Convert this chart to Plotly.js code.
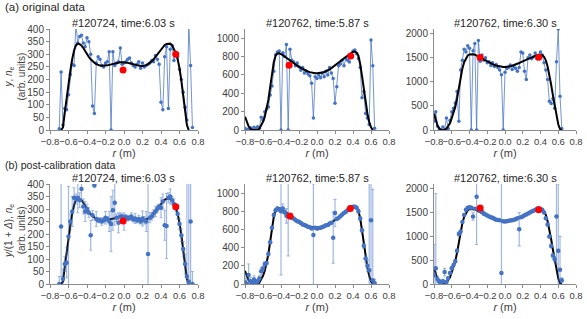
<!DOCTYPE html>
<html><head><meta charset="utf-8">
<script src="https://cdn.plot.ly/plotly-3.0.1.min.js"></script>
<style>body{margin:0;padding:0;background:#fff}#chart{width:587px;height:319px}</style>
</head><body><div id="chart"></div>
<script>
// ---------- shot #120724, time 6.03 s ----------
const rA = [-0.70,-0.68,-0.66,-0.64,-0.62,-0.60,-0.58,-0.56,-0.54,-0.52,
 -0.50,-0.48,-0.46,-0.44,-0.42,-0.40,-0.38,-0.36,-0.34,-0.32,
 -0.30,-0.28,-0.26,-0.24,-0.22,-0.20,-0.18,-0.16,-0.14,-0.12,
 -0.10,-0.08,-0.06,-0.04,-0.02,0.00,0.02,0.04,0.06,0.08,
 0.10,0.12,0.14,0.16,0.18,0.20,0.22,0.24,0.26,0.28,
 0.30,0.32,0.34,0.36,0.38,0.40,0.42,0.44,0.46,0.48,
 0.50,0.52,0.54,0.56,0.58,0.60,0.62,0.64,0.66,0.68,
 0.70,0.72,0.74];
const yA_orig = [5,230,20,85,80,140,220,260,255,420,
 345,370,375,345,330,365,350,300,95,65,
 265,290,280,255,250,265,270,310,0,310,
 255,265,270,325,260,265,270,280,285,265,
 255,250,260,270,245,265,250,255,260,265,
 275,270,295,280,260,110,80,290,330,85,
 320,335,275,300,290,240,200,150,90,40,
 420,255,10];
const yA_cal = [0,230,20,80,85,190,250,290,345,340,
 345,335,380,310,290,300,285,195,275,395,
 260,255,255,250,255,265,260,250,240,295,
 325,265,245,270,270,250,268,262,265,270,
 258,262,255,260,250,262,255,250,120,265,
 270,282,290,300,310,305,330,235,232,345,
 350,335,320,305,280,240,195,140,80,30,
 10,250,0];
const eA_cal = [30,200,40,30,60,200,30,60,40,20,
 60,30,50,30,40,20,20,60,20,10,
 30,10,10,15,10,25,10,40,110,80,
 90,15,40,15,10,35,10,10,10,15,
 10,20,10,15,10,30,15,40,300,20,
 15,15,20,15,10,40,30,60,130,20,
 30,15,20,15,20,20,25,30,40,400,
 500,400,50];
const fitRA = [-0.68,-0.66,-0.64,-0.62,-0.60,-0.58,-0.56,-0.54,-0.52,-0.50,
 -0.48,-0.46,-0.44,-0.42,-0.40,-0.38,-0.36,-0.34,-0.32,-0.30,
 -0.28,-0.26,-0.24,-0.22,-0.20,-0.18,-0.16,-0.14,-0.12,-0.10,
 -0.08,-0.06,-0.04,-0.02,0.00,0.02,0.04,0.06,0.08,0.10,
 0.12,0.14,0.16,0.18,0.20,0.22,0.24,0.26,0.28,0.30,
 0.32,0.34,0.36,0.38,0.40,0.42,0.44,0.46,0.48,0.50,
 0.52,0.54,0.56,0.58,0.60,0.62,0.64,0.66,0.68,0.70];
const fitA = [0,10,70,130,185,235,280,315,335,342,
 340,335,325,312,300,289,280,272,266,261,
 257,255,254,254,255,256,258,260,262,264,
 266,267,268,268,268,267,266,264,262,260,
 258,256,254,253,253,254,257,261,266,272,
 280,290,300,311,321,330,337,341,343,342,
 335,322,305,280,245,195,135,75,20,0];
const redRA = [-0.01,0.56];
const redA_orig = [238,300];
const redA_cal = [252,309];

// ---------- shot #120762 (5.87 s and 6.30 s) ----------
const rB = [-0.80,-0.78,-0.76,-0.74,-0.72,-0.70,-0.68,-0.66,-0.64,-0.62,
 -0.60,-0.58,-0.56,-0.54,-0.52,-0.50,-0.48,-0.46,-0.44,-0.42,
 -0.40,-0.38,-0.36,-0.34,-0.32,-0.30,-0.28,-0.26,-0.24,-0.22,
 -0.20,-0.18,-0.16,-0.14,-0.12,-0.10,-0.08,-0.06,-0.04,-0.02,
 0.00,0.02,0.04,0.06,0.08,0.10,0.12,0.14,0.16,0.18,
 0.20,0.22,0.24,0.26,0.28,0.30,0.32,0.34,0.36,0.38,
 0.40,0.42,0.44,0.46,0.48,0.50,0.52,0.54,0.56,0.58,
 0.60,0.62,0.64];
// time 5.87 s
const yB_orig = [20,0,10,25,5,30,15,35,20,140,
 110,200,230,250,380,480,640,820,850,860,
 0,840,800,930,0,880,760,740,700,730,
 690,650,680,620,640,610,590,510,130,580,
 560,600,570,620,580,640,600,680,620,560,
 290,470,700,720,760,700,780,760,740,820,
 860,870,830,780,680,350,420,180,130,60,
 980,700,20];
const yB_cal = [20,0,100,30,20,50,10,30,60,140,
 170,220,230,330,460,620,760,810,830,820,
 800,830,790,750,760,740,730,720,705,690,
 685,670,655,650,640,630,625,610,540,620,
 610,615,620,628,635,645,650,665,675,510,
 780,715,730,745,765,780,795,810,825,840,
 850,850,840,800,720,590,420,280,200,150,
 700,40,10];
const eB_cal = [100,60,120,40,20,40,30,20,30,40,
 30,25,20,20,15,15,20,15,20,15,
 700,50,20,80,450,25,15,10,10,10,
 10,10,10,15,10,10,10,10,560,10,
 15,10,10,10,10,10,15,10,10,280,
 150,10,10,10,10,10,15,10,10,10,
 10,15,15,20,20,20,25,40,60,1000,
 900,1000,40];
const fitB = [145,90,40,15,0,0,0,0,15,50,
 90,145,230,330,470,620,740,810,832,836,
 828,815,800,785,770,756,742,728,714,700,
 688,676,664,654,645,637,630,624,620,618,
 617,618,621,625,632,640,650,661,674,688,
 703,718,734,750,766,782,797,812,826,840,
 850,855,845,810,720,590,440,300,180,90,
 30,0,null];
const redRB = [-0.31,0.375];
const redB_orig = [705,807];
const redRB_cal = [-0.30,0.37];
const redB_cal = [748,830];
// time 6.30 s
const yC_orig = [180,380,80,20,0,60,10,250,30,200,
 380,450,560,800,180,1250,1450,1680,1620,1750,
 1700,0,1650,1800,0,1860,1430,1560,1450,1500,
 1400,1420,1340,1400,1320,1360,1300,1250,1150,0,
 1200,1280,1300,1350,1260,1320,1280,1220,1300,1620,
 1600,1220,1050,1500,1560,1480,1520,1600,1480,1550,
 1620,1560,1400,1250,1050,600,550,650,450,1420,
 2100,700,30];
const yC_cal = [180,330,100,50,20,60,250,40,120,230,
 330,400,480,700,1050,1100,1300,1450,1560,1600,
 1610,1600,1420,1580,1830,1570,1540,1520,1480,1460,
 1440,1420,1400,1390,1370,1350,1345,1340,230,1320,
 1310,1320,1330,1335,1340,1350,1360,1380,1150,1400,
 1420,1445,1460,1480,1500,1520,1540,1555,1580,1590,
 1570,1560,1500,1380,1250,1000,800,600,520,1420,
 700,300,80];
const eC_cal = [650,1570,60,40,30,40,80,20,30,30,
 40,30,20,30,40,20,20,20,20,20,
 20,30,80,20,1000,30,20,20,40,15,
 15,15,15,15,15,15,15,15,2000,15,
 15,15,15,15,15,15,15,20,350,15,
 15,15,15,15,15,15,15,15,15,15,
 20,20,20,25,30,40,40,50,60,1000,
 1400,700,50];
const fitC = [345,200,90,30,5,0,0,30,80,140,
 250,360,480,660,880,1100,1280,1410,1500,1550,
 1570,1580,1575,1565,1545,1525,1505,1485,1460,1440,
 1420,1400,1380,1365,1350,1340,1330,1322,1316,1312,
 1310,1312,1318,1326,1336,1346,1360,1375,1392,1410,
 1428,1446,1465,1483,1500,1515,1530,1545,1557,1565,
 1567,1555,1520,1450,1320,1150,940,720,500,280,
 120,20,0];
const redRC = [-0.28,0.38];
const redC_orig = [1505,1515];
const redC_cal = [1595,1560];

const titles = ['#120724, time:6.03 s','#120762, time:5.87 s','#120762, time:6.30 s'];
const yTitles = ['<i>y</i>, <i>n</i><sub>e</sub><br>(arb. units)',
                 '<i>y</i>/(1 + <i>Δ</i>), <i>n</i><sub>e</sub><br>(arb. units)'];
const yMax = [400,1100,2100];
const yStep = [50,200,500];

// ---------- styling ----------
const BLUE = '#4472C4';
const FONT = 'Liberation Sans, Arial, sans-serif';

function origData(x, y, ax){
  return {x:x, y:y, xaxis:'x'+ax, yaxis:'y'+ax, type:'scatter', mode:'lines+markers',
    line:{color:'rgba(68,114,196,0.75)', width:1},
    marker:{color:BLUE, size:3.5}, hoverinfo:'skip'};
}
function calData(x, y, e, ax){
  return {x:x, y:y, xaxis:'x'+ax, yaxis:'y'+ax, type:'scatter', mode:'markers',
    error_y:{type:'data', array:e, visible:true, color:'rgba(68,114,196,0.5)', thickness:1.2, width:1.5},
    marker:{color:BLUE, size:4.5}, hoverinfo:'skip'};
}
function fitLine(x, y, ax){
  return {x:x, y:y, xaxis:'x'+ax, yaxis:'y'+ax, type:'scatter', mode:'lines',
    line:{color:'#000', width:2}, connectgaps:false, hoverinfo:'skip'};
}
function redPts(x, y, ax){
  return {x:x, y:y, xaxis:'x'+ax, yaxis:'y'+ax, type:'scatter', mode:'markers',
    marker:{color:'#ff0000', size:7}, hoverinfo:'skip'};
}

const data = [
  origData(rA, yA_orig, ''), fitLine(fitRA, fitA, ''), redPts(redRA, redA_orig, ''),
  origData(rB, yB_orig, '2'), fitLine(rB, fitB, '2'), redPts(redRB, redB_orig, '2'),
  origData(rB, yC_orig, '3'), fitLine(rB, fitC, '3'), redPts(redRC, redC_orig, '3'),
  fitLine(fitRA, fitA, '4'), calData(rA, yA_cal, eA_cal, '4'), redPts(redRA, redA_cal, '4'),
  fitLine(rB, fitB, '5'), calData(rB, yB_cal, eB_cal, '5'), redPts(redRB_cal, redB_cal, '5'),
  fitLine(rB, fitC, '6'), calData(rB, yC_cal, eC_cal, '6'), redPts(redRC, redC_cal, '6')
];

const W = 587, H = 319;
const colPx = [[50,198],[245,389],[434,576]];
const rowPx = [[29,130],[184,284]];

function xAxis(col, row){
  const n = row*3+col+1;
  return {domain:[colPx[col][0]/W, colPx[col][1]/W], anchor:'y'+(n===1?'':n),
    range:[-0.8,0.8], tick0:-0.8, dtick:0.2, tickformat:'.1f', tickangle:0,
    showline:true, linecolor:'#8c8c8c', linewidth:1, ticks:'outside', ticklen:3, tickcolor:'#8c8c8c',
    showgrid:false, zeroline:false, tickfont:{family:FONT, size:9.5, color:'#404040'},
    title:{text:'<i>r</i> (m)', font:{family:FONT, size:11, color:'#404040'}, standoff:0}};
}
function yAxis(col, row){
  const n = row*3+col+1;
  return {domain:[1-rowPx[row][1]/H, 1-rowPx[row][0]/H], anchor:'x'+(n===1?'':n),
    range:[0, yMax[col]], tick0:0, dtick:yStep[col],
    showline:true, linecolor:'#8c8c8c', linewidth:1, ticks:'outside', ticklen:3, tickcolor:'#8c8c8c',
    showgrid:false, zeroline:false, tickfont:{family:FONT, size:10, color:'#404040'}};
}

const layout = {width:W, height:H, margin:{l:0,r:0,t:0,b:0}, showlegend:false,
  paper_bgcolor:'#fff', plot_bgcolor:'rgba(0,0,0,0)', font:{family:FONT, color:'#404040'},
  annotations:[]};
for (let row=0; row<2; row++){
  for (let col=0; col<3; col++){
    const n = row*3+col+1;
    const s = n===1 ? '' : String(n);
    layout['xaxis'+s] = xAxis(col,row);
    layout['yaxis'+s] = yAxis(col,row);
    layout.annotations.push({text:titles[col], xref:'x'+s+' domain', yref:'paper',
      x:0.5, y:1-(row===0?23:178)/H, xanchor:'center', yanchor:'middle', showarrow:false,
      font:{family:FONT, size:11, color:'#262626'}});
  }
  // y-axis title of the first column (rotated, two lines)
  layout.annotations.push({text:yTitles[row], textangle:-90, xref:'paper', yref:'y'+(row===0?'':'4')+' domain',
    x:15/W, y:0.53, xanchor:'center', yanchor:'middle', showarrow:false,
    font:{family:FONT, size:10, color:'#404040'}});
}
layout.annotations.push({text:'(a) original data', xref:'paper', yref:'paper', x:3/W, y:1-7/H,
  xanchor:'left', yanchor:'middle', showarrow:false, font:{family:FONT, size:11.5, color:'#262626'}});
layout.annotations.push({text:'(b) post-calibration data', xref:'paper', yref:'paper', x:3/W, y:1-165/H,
  xanchor:'left', yanchor:'middle', showarrow:false, font:{family:FONT, size:10.5, color:'#262626'}});

Plotly.newPlot('chart', data, layout, {staticPlot:true, displayModeBar:false});
</script></body></html>
